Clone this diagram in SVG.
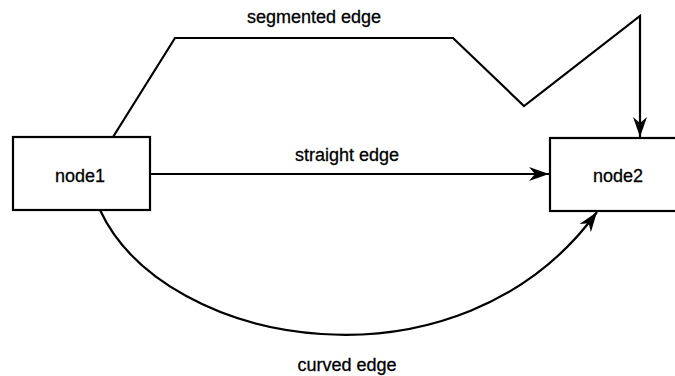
<svg xmlns="http://www.w3.org/2000/svg" width="675" height="376" viewBox="0 0 675 376">
<style>
.node rect{fill:#fff;stroke:#000;stroke-width:2.2}
text{font-family:"Liberation Sans",Arial,sans-serif;font-size:18px;fill:#000;stroke:#000;stroke-width:0.3;text-anchor:middle}
.edge{fill:none;stroke:#000;stroke-width:2.2;stroke-linejoin:miter}
</style>
<defs>
<marker id="arr" markerWidth="22" markerHeight="16" refX="20" refY="8" orient="auto" markerUnits="userSpaceOnUse">
<path d="M0,1 L20,8 L0,15 L6,8 Z" fill="#000"/>
</marker>
</defs>
<g id="connectors">
<path class="edge" d="M113,137 L175,38 L453,38 L524,106 L640,16 L640,137" marker-end="url(#arr)"/>
<path class="edge" d="M150,174 L549,174" marker-end="url(#arr)"/>
<path class="edge" d="M100,210 C165,350 460,400 597,212" marker-end="url(#arr)"/>
<text x="314" y="23">segmented edge</text>
<text x="347" y="161">straight edge</text>
<text x="347" y="371">curved edge</text>
</g>
<g id="node1" class="node">
<rect x="13" y="137" width="137" height="73"/>
<text x="80" y="182">node1</text>
</g>
<g id="node2" class="node">
<rect x="550" y="138" width="137" height="73"/>
<text x="618" y="182">node2</text>
</g>
</svg>
